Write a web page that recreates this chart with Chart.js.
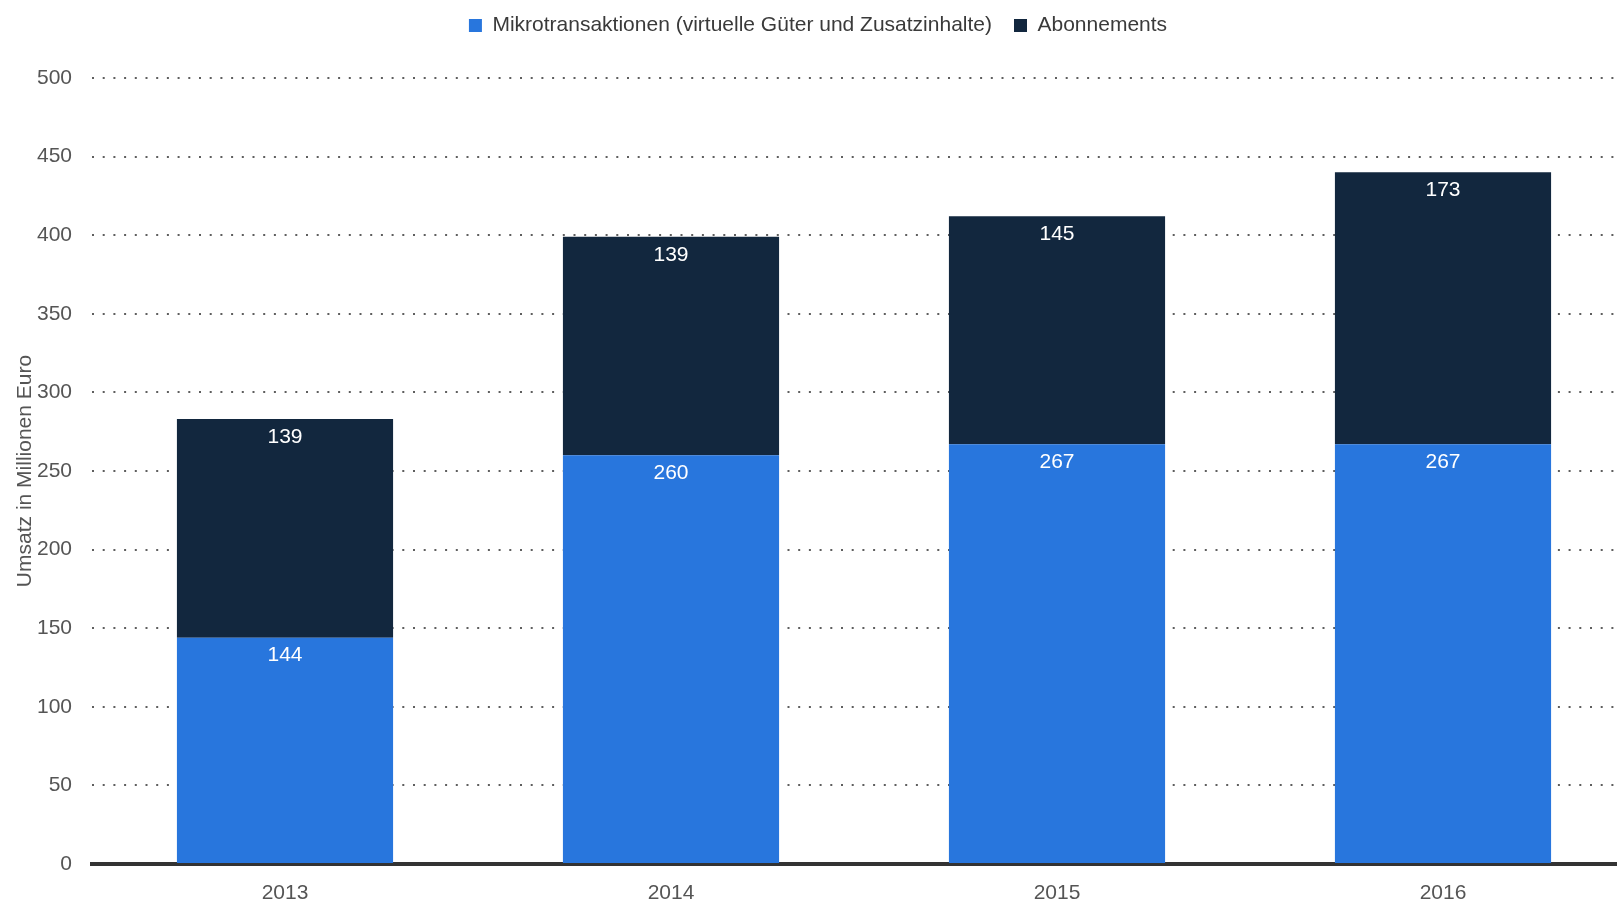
<!DOCTYPE html>
<html lang="de">
<head>
<meta charset="utf-8">
<title>Umsatz Mikrotransaktionen und Abonnements</title>
<script src="https://cdn.jsdelivr.net/npm/chart.js@4.4.1/dist/chart.umd.min.js"></script>
<style>
  html, body { margin: 0; padding: 0; background: #fff; overflow: hidden; }
  #wrap { position: relative; width: 1636px; height: 901px; }
</style>
</head>
<body>
<div id="wrap"><canvas id="salesChart"></canvas></div>
<script>
// Daten
const years = ["2013", "2014", "2015", "2016"];
const mikrotransaktionen = [144, 260, 267, 267];
const abonnements = [139, 139, 145, 173];
const yTicks = [0, 50, 100, 150, 200, 250, 300, 350, 400, 450, 500];

const FONT = "'Liberation Sans', Arial, Helvetica, sans-serif";

// Werte weiss oben in jedes Segment schreiben
const valueLabels = {
  id: "valueLabels",
  afterDatasetsDraw(chart) {
    const ctx = chart.ctx;
    ctx.save();
    ctx.fillStyle = "#ffffff";
    ctx.font = "21px " + FONT;
    ctx.textAlign = "center";
    ctx.textBaseline = "middle";
    chart.data.datasets.forEach((ds, i) => {
      const meta = chart.getDatasetMeta(i);
      meta.data.forEach((bar, j) => {
        ctx.fillText(String(ds.data[j]), bar.x, bar.y + 18);
      });
    });
    ctx.restore();
  },
};

new Chart(document.getElementById("salesChart"), {
  type: "bar",
  data: {
    labels: years,
    datasets: [
      {
        label: "Mikrotransaktionen (virtuelle Güter und Zusatzinhalte)",
        data: mikrotransaktionen,
        backgroundColor: "#2876dd",
        barPercentage: 0.56,
        categoryPercentage: 1,
      },
      {
        label: "Abonnements",
        data: abonnements,
        backgroundColor: "#12273e",
        barPercentage: 0.56,
        categoryPercentage: 1,
      },
    ],
  },
  options: {
    responsive: true,
    maintainAspectRatio: false,
    animation: false,
    layout: { padding: { top: -7, right: 0, bottom: 0, left: 0 } },
    plugins: {
      legend: {
        display: true,
        position: "top",
        labels: {
          boxWidth: 13,
          boxHeight: 13,
          padding: 22,
          color: "#3a3a3a",
          font: { family: FONT, size: 21 },
        },
      },
      tooltip: { enabled: false },
    },
    scales: {
      x: {
        stacked: true,
        grid: { display: false, drawTicks: false },
        border: { display: true, color: "#333333", width: 4 },
        ticks: { color: "#555555", padding: 17, font: { family: FONT, size: 21 } },
        afterFit: (scale) => { scale.height = 37; },
      },
      // leere Achse oben als Abstand zwischen Legende und Diagramm
      xTop: {
        position: "top",
        display: true,
        grid: { display: false, drawTicks: false },
        border: { display: false },
        ticks: { display: false },
        afterFit: (scale) => { scale.height = 32; },
      },
      y: {
        stacked: true,
        min: 0,
        max: 500,
        afterBuildTicks: (scale) => { scale.ticks = yTicks.map((v) => ({ value: v })); },
        grid: { color: "#5e5e5e", lineWidth: 2, drawTicks: false },
        border: { display: false, dash: [2, 8.7] },
        ticks: { color: "#555555", padding: 20, font: { family: FONT, size: 21 } },
        title: {
          display: true,
          text: "Umsatz in Millionen Euro",
          color: "#555555",
          font: { family: FONT, size: 21 },
          padding: { top: 13, bottom: 0 },
        },
        afterFit: (scale) => { scale.width = 92; },
      },
    },
  },
  plugins: [valueLabels],
});
</script>
</body>
</html>
